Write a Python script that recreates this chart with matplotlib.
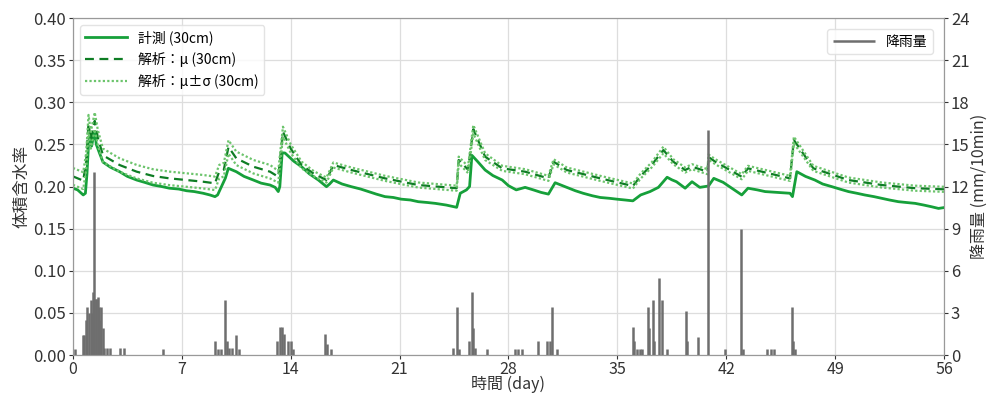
import matplotlib
matplotlib.use("Agg")
import matplotlib.pyplot as plt
import numpy as np

plt.rcParams['font.family'] = ['Noto Sans CJK JP', 'DejaVu Sans']

# measured volumetric water content (30cm)
meas_day = [0.0, 0.3, 0.66, 0.8, 0.9, 1.0, 1.1, 1.2, 1.3, 1.4, 1.5, 1.7, 1.93, 2.4, 3.0, 3.5,
            4.1, 4.6, 5.15, 5.7, 6.2, 6.8, 7.3, 7.8, 8.37, 8.8, 9.13, 9.3, 9.5, 9.8, 9.99,
            10.5, 11.0, 11.6, 12.1, 12.67, 13.0, 13.2, 13.3, 13.45, 13.63, 14.2, 14.7, 15.2,
            15.78, 16.3, 16.5, 16.74, 17.3, 17.9, 18.5, 19.0, 19.5, 20.06, 20.6, 21.1, 21.7,
            22.2, 22.8, 23.3, 24.0, 24.67, 24.9, 25.3, 25.5, 25.65, 26.0, 26.5, 27.0, 27.6,
            28.0, 28.5, 29.07, 29.6, 30.1, 30.57, 31.0, 31.75, 32.3, 32.8, 33.4, 33.9, 34.5,
            34.96, 35.5, 36.0, 36.5, 37.1, 37.64, 38.2, 38.5, 38.8, 39.36, 39.8, 40.3, 40.86,
            41.2, 41.8, 42.36, 43.0, 43.4, 44.0, 44.5, 45.3, 46.1, 46.26, 46.54, 47.1, 47.7,
            48.2, 48.8, 49.3, 49.86, 50.4, 50.9, 51.5, 52.0, 52.5, 53.07, 53.6, 54.15, 54.7,
            55.2, 55.65, 56.0]
meas_val = [0.198, 0.196, 0.190, 0.192, 0.215, 0.250, 0.262, 0.248, 0.258, 0.265, 0.250, 0.240,
            0.229, 0.223, 0.2176, 0.212, 0.2077, 0.205, 0.2018, 0.200, 0.198, 0.197, 0.195,
            0.194, 0.192, 0.190, 0.188, 0.190, 0.198, 0.210, 0.2216, 0.2176, 0.212, 0.2077,
            0.204, 0.2018, 0.199, 0.194, 0.200, 0.240, 0.2398, 0.230, 0.2235, 0.215, 0.2077,
            0.1998, 0.203, 0.2077, 0.203, 0.1998, 0.197, 0.194, 0.191, 0.188, 0.187, 0.185,
            0.184, 0.182, 0.181, 0.180, 0.178, 0.1753, 0.192, 0.196, 0.200, 0.237, 0.230,
            0.2196, 0.213, 0.2077, 0.201, 0.196, 0.199, 0.196, 0.193, 0.191, 0.2045, 0.199,
            0.195, 0.192, 0.189, 0.187, 0.186, 0.185, 0.184, 0.183, 0.190, 0.194, 0.199,
            0.211, 0.208, 0.2057, 0.198, 0.2057, 0.199, 0.2006, 0.2097, 0.205, 0.198, 0.190,
            0.198, 0.196, 0.194, 0.193, 0.192, 0.188, 0.2176, 0.212, 0.2077, 0.203, 0.1998,
            0.197, 0.194, 0.192, 0.190, 0.188, 0.186, 0.184, 0.182, 0.181, 0.180, 0.178,
            0.176, 0.174, 0.175]

# analysis mean and standard deviation (30cm)
mu_day = [0.0, 0.66, 0.85, 1.0, 1.15, 1.4, 1.6, 1.93, 3.0, 4.1, 5.15, 6.2, 7.3, 8.37, 9.13,
          9.4, 9.7, 10.0, 10.5, 11.6, 12.67, 13.2, 13.5, 14.0, 14.7, 15.5, 16.3, 16.74, 17.9,
          20.06, 22.2, 24.67, 24.8, 25.4, 25.74, 26.5, 27.6, 29.07, 30.57, 30.9, 31.75, 33.9,
          36.0, 36.5, 37.2, 37.96, 38.6, 39.36, 39.8, 40.8, 40.86, 41.3, 43.0, 43.4, 46.1,
          46.35, 47.6, 49.86, 52.0, 54.15, 56.0]
mu_val = [0.212, 0.207, 0.230, 0.275, 0.255, 0.278, 0.258, 0.237, 0.2255, 0.2176, 0.2125,
          0.2097, 0.2077, 0.2057, 0.2038, 0.2176, 0.2200, 0.247, 0.2335, 0.2235, 0.2176,
          0.2116, 0.265, 0.245, 0.2255, 0.215, 0.2077, 0.2255, 0.2196, 0.2097, 0.2018, 0.198,
          0.2315, 0.220, 0.268, 0.2354, 0.2216, 0.2176, 0.2097, 0.2294, 0.2196, 0.2097,
          0.2006, 0.2125, 0.2255, 0.2433, 0.2294, 0.2196, 0.2235, 0.2176, 0.235, 0.2294,
          0.2116, 0.2216, 0.2097, 0.2552, 0.2216, 0.2077, 0.2018, 0.198, 0.1967]
sd_val = [0.010, 0.010, 0.010, 0.010, 0.010, 0.010, 0.009, 0.008, 0.008, 0.008, 0.008, 0.008,
          0.008, 0.008, 0.008, 0.008, 0.008, 0.008, 0.008, 0.008, 0.008, 0.007, 0.006, 0.005,
          0.004, 0.003, 0.003, 0.003, 0.003, 0.003, 0.003, 0.003, 0.004, 0.004, 0.005, 0.004,
          0.003, 0.003, 0.003, 0.003, 0.003, 0.003, 0.003, 0.003, 0.003, 0.004, 0.003, 0.003,
          0.003, 0.003, 0.003, 0.003, 0.003, 0.003, 0.003, 0.004, 0.003, 0.003, 0.003, 0.003,
          0.003]

# rainfall (mm/10min)
rain_day = [0.13, 0.62, 0.7, 0.85, 0.93, 1.05, 1.16, 1.2, 1.28, 1.35, 1.45, 1.5, 1.58, 1.65,
            1.7, 1.8, 1.9, 2.0, 2.2, 2.4, 3.05, 3.3, 5.8, 9.13, 9.3, 9.5, 9.77, 9.9, 10.05,
            10.2, 10.5, 10.65, 13.15, 13.3, 13.45, 13.6, 13.8, 14.0, 14.15, 16.2, 16.35, 16.6,
            24.45, 24.7, 24.85, 25.49, 25.64, 25.72, 25.85, 26.65, 28.4, 28.6, 28.85, 29.9,
            30.5, 30.65, 30.8, 31.1, 36.0, 36.1, 36.25, 36.45, 36.6, 36.95, 37.05, 37.27,
            37.38, 37.7, 37.9, 38.18, 39.4, 39.5, 40.17, 40.84, 41.93, 42.96, 43.05, 44.6,
            44.85, 45.1, 46.2, 46.3, 46.45]
rain_val = [0.4, 1.4, 1.4, 2.5, 3.4, 3.0, 3.9, 3.0, 4.5, 13.0, 4.0, 4.0, 4.1, 3.4, 2.5, 3.4,
            1.9, 0.5, 0.5, 0.5, 0.5, 0.5, 0.4, 1.0, 0.4, 0.4, 3.9, 1.0, 0.5, 0.5, 1.4, 0.4,
            1.0, 2.0, 2.0, 1.5, 1.0, 1.0, 0.4, 1.5, 0.8, 0.4, 0.5, 3.4, 0.4, 1.0, 4.5, 1.9,
            0.5, 0.4, 0.4, 0.4, 0.4, 1.0, 1.0, 1.0, 3.4, 0.4, 2.0, 1.0, 0.4, 0.4, 0.4, 3.4,
            1.9, 3.9, 1.0, 5.5, 3.9, 0.4, 3.1, 1.0, 1.3, 16.0, 0.4, 9.0, 0.4, 0.4, 0.4, 0.4,
            3.4, 1.0, 0.4]

x_ticks = [0, 7, 14, 21, 28, 35, 42, 49, 56]
y_ticks = [0.00, 0.05, 0.10, 0.15, 0.20, 0.25, 0.30, 0.35, 0.40]
r_ticks = [0, 3, 6, 9, 12, 15, 18, 21, 24]

mu = np.array(mu_val)
sd = np.array(sd_val)

fig = plt.figure(figsize=(9.9, 3.98), dpi=100)
ax = fig.add_axes([0.0737, 0.108, 0.8798, 0.8467])
ax2 = ax.twinx()

c_meas = '#16a03a'
c_mu = '#0e7d24'
c_sd = '#6cc46c'

ax.plot(meas_day, meas_val, color=c_meas, lw=2.0, label='計測 (30cm)', zorder=3)
ax.plot(mu_day, mu, color=c_mu, lw=1.6, ls=(0, (4, 2.5)), label='解析：μ (30cm)', zorder=4)
ax.plot(mu_day, mu + sd, color=c_sd, lw=1.6, ls=(0, (1, 1)), label='解析：μ±σ (30cm)', zorder=4)
ax.plot(mu_day, mu - sd, color=c_sd, lw=1.6, ls=(0, (1, 1)), zorder=4)

ax2.vlines(rain_day, 0, rain_val, colors='#6e6e6e', lw=1.8, label='降雨量')

ax.set_xlim(0, 56)
ax.set_ylim(0, 0.40)
ax2.set_ylim(0, 24)
ax.set_xticks(x_ticks)
ax.set_yticks(y_ticks)
ax.set_yticklabels([f'{v:.2f}' for v in y_ticks])
ax2.set_yticks(r_ticks)

ax.grid(True, color='#dddddd', lw=0.9)
ax.set_axisbelow(True)

for a in (ax, ax2):
    for s in a.spines.values():
        s.set_color('#999999')
    a.tick_params(labelsize=12, colors='#333333', length=3, pad=2)
ax.tick_params(axis='x', labelsize=11.5, pad=1)

ax.set_xlabel('時間 (day)', fontsize=11.5, color='#333333', labelpad=-1)
ax.set_ylabel('体積含水率', fontsize=12, color='#333333', labelpad=2)
ax2.set_ylabel('降雨量 (mm/10min)', fontsize=11.5, color='#333333', labelpad=1)

ax.legend(loc='upper left', fontsize=10, frameon=True, edgecolor='#dddddd',
          handlelength=3.0, borderaxespad=0.5)
ax2.legend(loc='upper right', fontsize=10, frameon=True, edgecolor='#dddddd',
           handlelength=3.0, borderaxespad=0.8)

fig.savefig('out.png', dpi=100)
